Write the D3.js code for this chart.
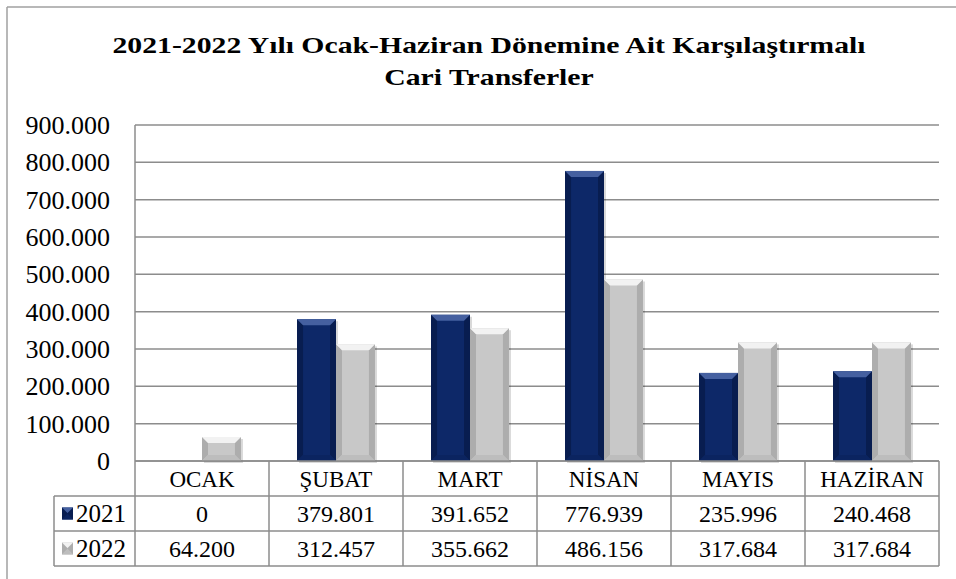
<!DOCTYPE html>
<html><head><meta charset="utf-8">
<script src="https://cdn.jsdelivr.net/npm/d3@7"></script>
<style>body{margin:0;background:#fff}svg{display:block}svg text{font-family:'Times New Roman','Liberation Serif',Tinos,serif;fill:#000}</style>
</head><body><svg id="c" width="956" height="579"></svg>
<script>
const categories = ["OCAK","ŞUBAT","MART","NİSAN","MAYIS","HAZİRAN"];
const series = ["2021","2022"];
const values2021 = [0,379801,391652,776939,235996,240468];
const values2022 = [64200,312457,355662,486156,317684,317684];
const yTicks = [0,100000,200000,300000,400000,500000,600000,700000,800000,900000];
const titleLines = ["2021-2022 Yılı Ocak-Haziran Dönemine Ait Karşılaştırmalı","Cari Transferler"];

const FONT = "'Times New Roman','Liberation Serif',Tinos,serif";
const fmt = d3.formatLocale({decimal:",",thousands:".",grouping:[3],currency:["",""]}).format(",d");
const svg = d3.select("#c");
const L=135,R=939,T=125,B=461;
const rowH=35;
const legL=54;
const colors = {
  "2021":{main:"#0d2868",top:"#4560a0",side:"#081d50",bottom:"#0b2460"},
  "2022":{main:"#c8c8c8",top:"#f2f2f2",side:"#adadad",bottom:"#bdbdbd"}
};

// frame
svg.append("line").attr("x1",7).attr("x2",956).attr("y1",7).attr("y2",7).attr("stroke","#a0a0a0").attr("stroke-width",1.5);
svg.append("line").attr("x1",7).attr("x2",7).attr("y1",7).attr("y2",579).attr("stroke","#a0a0a0").attr("stroke-width",1.5);

// title
svg.append("text").attr("transform","translate(489,0) scale(1.24,1)").attr("text-anchor","middle")
 .attr("font-weight","bold").attr("font-size",24).attr("font-family",FONT)
 .selectAll("tspan").data(titleLines).join("tspan").attr("x",0).attr("y",(d,i)=>53+i*32).text(d=>d);

const x = d3.scaleBand().domain(categories).range([L,R]);
const xs = d3.scaleBand().domain(series).range([0,x.bandwidth()]).paddingOuter(0.72);
const y = d3.scaleLinear().domain([0,900000]).range([B,T]);

// gridlines
svg.append("g").selectAll("line").data(yTicks).join("line")
 .attr("x1",L).attr("x2",R).attr("y1",d=>y(d)).attr("y2",d=>y(d))
 .attr("stroke","#8c8c8c").attr("stroke-width",1.5);
svg.append("line").attr("x1",L).attr("x2",L).attr("y1",T).attr("y2",B).attr("stroke","#8c8c8c").attr("stroke-width",1.5);

// y axis labels
const ya = svg.append("g").attr("transform",`translate(${L-25},0)`)
 .call(d3.axisLeft(y).tickValues(yTicks).tickFormat(fmt).tickSize(0).tickPadding(0));
ya.attr("font-family",FONT).attr("font-size",26);
ya.select(".domain").remove();
ya.selectAll("text").attr("fill","#000").attr("dy","0.33em");

// bars
function drawBar(g,x0,w,y0,h,c,shadow){
  const bv = Math.min(6, h/2, w/2);
  if(shadow) g.append("rect").attr("x",x0+2).attr("y",y0+2).attr("width",w).attr("height",h).attr("fill","#000").attr("opacity",0.15);
  g.append("rect").attr("x",x0).attr("y",y0).attr("width",w).attr("height",h).attr("fill",c.main);
  g.append("path").attr("d",`M${x0},${y0}L${x0+bv},${y0+bv}L${x0+bv},${y0+h-bv}L${x0},${y0+h}Z`).attr("fill",c.side);
  g.append("path").attr("d",`M${x0+w},${y0}L${x0+w-bv},${y0+bv}L${x0+w-bv},${y0+h-bv}L${x0+w},${y0+h}Z`).attr("fill",c.side);
  g.append("path").attr("d",`M${x0},${y0+h}L${x0+bv},${y0+h-bv}L${x0+w-bv},${y0+h-bv}L${x0+w},${y0+h}Z`).attr("fill",c.bottom);
  g.append("path").attr("d",`M${x0},${y0}L${x0+w},${y0}L${x0+w-bv},${y0+bv}L${x0+bv},${y0+bv}Z`).attr("fill",c.top);
}
const data = categories.map((c,i)=>({cat:c, vals:[{s:"2021",v:values2021[i]},{s:"2022",v:values2022[i]}]}));
const bg = svg.append("g");
data.forEach(d=>{
  d.vals.forEach(v=>{
    if(v.v<=0) return;
    const x0 = x(d.cat)+xs(v.s), w = xs.bandwidth(), y0 = y(v.v), h = y(0)-y(v.v);
    drawBar(bg,x0,w,y0,h,colors[v.s],true);
  });
});

// data table
const tg = svg.append("g").attr("font-family",FONT);
function ln(x1,y1,x2,y2){tg.append("line").attr("x1",x1).attr("y1",y1).attr("x2",x2).attr("y2",y2).attr("stroke","#8c8c8c").attr("stroke-width",1.5);}
ln(L,B,R,B);
ln(legL,B+rowH,R,B+rowH);
ln(legL,B+2*rowH,R,B+2*rowH);
ln(legL,B+3*rowH,R,B+3*rowH);
categories.forEach(c=>ln(x(c),B,x(c),B+3*rowH));
ln(R,B,R,B+3*rowH);
ln(legL,B+rowH,legL,B+3*rowH);

tg.selectAll("text.cat").data(categories).join("text").attr("class","cat")
 .attr("x",d=>x(d)+x.bandwidth()/2).attr("y",B+rowH/2+1).attr("dy","0.34em")
 .attr("text-anchor","middle").attr("font-size",23).text(d=>d);
const rows = [{s:"2021",vals:values2021},{s:"2022",vals:values2022}];
rows.forEach((r,ri)=>{
  const cy = B+rowH*(ri+1)+rowH/2;
  tg.selectAll(null).data(r.vals).join("text")
   .attr("x",(d,i)=>x(categories[i])+x.bandwidth()/2).attr("y",cy).attr("dy","0.34em")
   .attr("text-anchor","middle").attr("font-size",24).text(d=>fmt(d));
  const kx=62, ky=cy-6, ks=11;
  drawBar(tg.append("g"),kx,ks,ky,12,colors[r.s],false);
  tg.append("text").attr("x",kx+ks+3).attr("y",cy).attr("dy","0.34em").attr("font-size",25).text(r.s);
});
</script></body></html>
